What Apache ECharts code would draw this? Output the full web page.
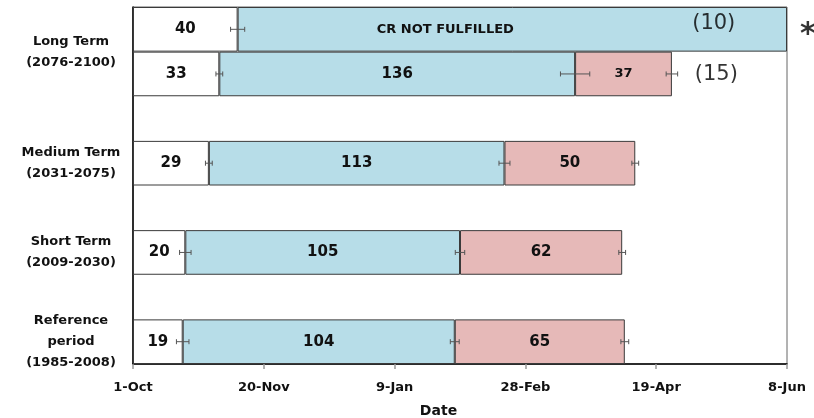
<!DOCTYPE html>
<html>
<head>
<meta charset="utf-8">
<script src="https://cdn.jsdelivr.net/npm/echarts@6/dist/echarts.min.js"></script>
<style>
  html, body { margin: 0; padding: 0; background: #fff; }
  #chart { width: 814px; height: 418px; }
</style>
</head>
<body>
<div id="chart"></div>
<script>
// Rows from bottom to top; empty rows are spacers between periods.
const rowKeys = ['ref', 'gap1', 'short', 'gap2', 'medium', 'gap3', 'long15', 'long10'];

// Days after 1 October for each phase of the season.
const phaseStart = [19, '-', 20, '-', 29, '-', 33, 40];
const phaseGrow  = [104, '-', 105, '-', 113, '-', 136, 210];
const phaseLate  = [65, '-', 62, '-', 50, '-', 37, '-'];

// Half-widths of the error bars (days) at the end of each phase.
const errStart = [2.4, null, 2.2, null, 1.3, null, 1.3, 2.7];
const errGrow  = [1.7, null, 1.8, null, 2.1, null, 5.6, null];
const errLate  = [1.5, null, 1.3, null, 1.3, null, 2.2, null];

// Axis text.
const xTickLabels = ['1-Oct', '20-Nov', '9-Jan', '28-Feb', '19-Apr', '8-Jun'];
const periodLabels = {
  1: 'Reference\nperiod\n(1985-2008)',
  5: 'Short Term\n(2009-2030)',
  9: 'Medium Term\n(2031-2075)',
  14: 'Long Term\n(2076-2100)'
};
const crText = 'CR NOT FULFILLED';

// Notes placed beside the long-term bars: [day, row, text].
const notes = [
  [222, 7, '(10)'],
  [223, 6, '(15)'],
  [258, 7, '*']
];

const FONT = 'DejaVu Sans';

// Cumulative end of each phase, used for the error bars.
function toNum(v) { return typeof v === 'number' ? v : 0; }
const endStart = phaseStart.map(toNum);
const endGrow = endStart.map((v, i) => v + toNum(phaseGrow[i]));
const endLate = endGrow.map((v, i) => v + toNum(phaseLate[i]));

const errData = [];
rowKeys.forEach((k, i) => {
  if (errStart[i] != null) errData.push([endStart[i], i, errStart[i]]);
  if (errGrow[i] != null) errData.push([endGrow[i], i, errGrow[i]]);
  if (errLate[i] != null) errData.push([endLate[i], i, errLate[i]]);
});

const barLabel = {
  show: true,
  position: 'inside',
  color: '#111',
  fontFamily: FONT,
  fontWeight: 'bold',
  fontSize: 15
};
const barBorder = { borderColor: '#3a3a3a', borderWidth: 1 };

const growData = phaseGrow.map((v, i) => {
  if (rowKeys[i] === 'long10') {
    return { value: v, label: { formatter: crText, fontSize: 13, offset: [-67, 0] } };
  }
  return v;
});
const lateData = phaseLate.map((v, i) => {
  if (rowKeys[i] === 'long15') return { value: v, label: { fontSize: 13 } };
  return v;
});

const chart = echarts.init(document.getElementById('chart'), null, { renderer: 'canvas' });
chart.setOption({
  animation: false,
  backgroundColor: '#fff',
  grid: {
    left: 133, right: 27, top: 7, bottom: 54,
    outerBoundsMode: 'none',
    containLabel: false,
    show: true, borderColor: '#666', borderWidth: 1, backgroundColor: 'transparent'
  },
  xAxis: {
    type: 'value',
    min: 0, max: 250, interval: 50,
    axisLine: { show: true, lineStyle: { color: '#000', width: 1.5 } },
    axisTick: { show: true, length: 5, lineStyle: { color: '#999', width: 1.5 } },
    splitLine: { show: false },
    axisLabel: {
      margin: 17,
      color: '#111',
      fontFamily: FONT, fontWeight: 'bold', fontSize: 13,
      formatter: v => xTickLabels[Math.round(v / 50)]
    },
    name: 'Date',
    nameLocation: 'middle',
    nameGap: 40,
    nameTextStyle: {
      color: '#111', fontFamily: FONT, fontWeight: 'bold', fontSize: 14,
      padding: [0, 43, 0, 0]
    }
  },
  yAxis: [
    {
      type: 'category',
      data: rowKeys,
      axisLine: { show: true, lineStyle: { color: '#000', width: 1.5 } },
      axisTick: { show: false },
      axisLabel: { show: false },
      splitLine: { show: false }
    },
    {
      type: 'value',
      position: 'left',
      min: 0, max: 16, interval: 1,
      axisLine: { show: false },
      axisTick: { show: false },
      splitLine: { show: false },
      axisLabel: {
        align: 'center',
        margin: 62,
        lineHeight: 21,
        color: '#111',
        fontFamily: FONT, fontWeight: 'bold', fontSize: 13,
        formatter: v => periodLabels[v] || ''
      }
    }
  ],
  series: [
    {
      type: 'bar', stack: 'season', barCategoryGap: '0%',
      data: phaseStart,
      itemStyle: Object.assign({ color: '#ffffff' }, barBorder),
      label: barLabel
    },
    {
      type: 'bar', stack: 'season', barCategoryGap: '0%',
      data: growData,
      itemStyle: Object.assign({ color: '#b7dde8' }, barBorder),
      label: barLabel
    },
    {
      type: 'bar', stack: 'season', barCategoryGap: '0%',
      data: lateData,
      itemStyle: Object.assign({ color: '#e6b9b8' }, barBorder),
      label: barLabel
    },
    {
      type: 'custom',
      data: errData,
      clip: false,
      z: 5,
      renderItem: function (params, api) {
        const x = api.value(0), row = api.value(1), e = api.value(2);
        const a = api.coord([x - e, row]);
        const b = api.coord([x + e, row]);
        const cap = 2.5;
        const style = { stroke: '#555', lineWidth: 1 };
        return {
          type: 'group',
          children: [
            { type: 'line', shape: { x1: a[0], y1: a[1], x2: b[0], y2: b[1] }, style },
            { type: 'line', shape: { x1: a[0], y1: a[1] - cap, x2: a[0], y2: a[1] + cap }, style },
            { type: 'line', shape: { x1: b[0], y1: b[1] - cap, x2: b[0], y2: b[1] + cap }, style }
          ]
        };
      }
    },
    {
      type: 'scatter',
      clip: false,
      symbolSize: 0,
      z: 6,
      data: notes.map(n => ({
        value: [n[0], n[1]],
        label: n[2] === '*'
          ? { fontSize: 30, fontWeight: 'bold', offset: [0, 6] }
          : (n[1] === 7 ? { offset: [0, -6] } : { offset: [0, 1] })
      })),
      label: {
        show: true,
        position: 'inside',
        color: '#000',
        fontFamily: FONT,
        fontSize: 21,
        formatter: p => notes[p.dataIndex][2]
      }
    }
  ]
});
</script>
</body>
</html>
